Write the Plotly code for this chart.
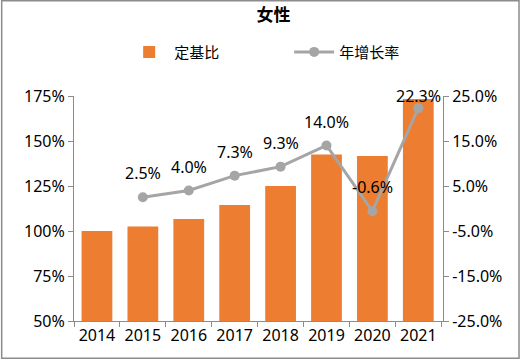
import plotly.graph_objects as go

years = ["2014", "2015", "2016", "2017", "2018", "2019", "2020", "2021"]
base_ratio = [100.0, 102.5, 106.6, 114.4, 125.0, 142.5, 141.7, 173.3]
growth_years = ["2015", "2016", "2017", "2018", "2019", "2020", "2021"]
growth_rate = [2.5, 4.0, 7.3, 9.3, 14.0, -0.6, 22.3]
right_ticks = [-25, -15, -5, 5, 15, 25]

FONT = "Noto Sans, Open Sans, Noto Sans CJK SC, sans-serif"
CJK = "Noto Sans CJK SC, sans-serif"

fig = go.Figure()
fig.add_trace(go.Bar(
    x=years, y=base_ratio, name="定基比",
    marker=dict(color="#ED7D31", line=dict(width=0)),
    yaxis="y",
))
fig.add_trace(go.Scatter(
    x=growth_years, y=growth_rate, name="年增长率",
    mode="lines+markers",
    line=dict(color="#A5A5A5", width=3),
    marker=dict(color="#A5A5A5", size=10),
    yaxis="y2", cliponaxis=False,
))

top_val = max(growth_rate)
for yr, v in zip(growth_years, growth_rate):
    fig.add_annotation(x=years.index(yr), y=v, xref="x", yref="y2", text=f"{v:.1f}%",
                       showarrow=False, yshift=12 if v == top_val else 24,
                       font=dict(size=16, color="#000000", family=FONT))

axis_common = dict(
    showgrid=False, zeroline=False, showline=True, linecolor="#8C8C8C", linewidth=1,
    ticks="outside", ticklen=5, tickcolor="#8C8C8C",
    tickfont=dict(size=16, color="#000000", family=FONT),
)

fig.update_layout(
    width=521, height=362,
    margin=dict(l=74, r=78, t=96, b=41, autoexpand=False),
    paper_bgcolor="white", plot_bgcolor="white",
    font=dict(family=FONT, color="#000000"),
    title=dict(text="<b>女性</b>", x=0.525, xanchor="center", y=0.958, yanchor="middle",
               font=dict(size=17, color="#000000", family=CJK)),
    bargap=0.33,
    showlegend=True,
    legend=dict(orientation="h", xref="container", yref="container",
                x=0.555, xanchor="center", y=0.856, yanchor="middle",
                font=dict(size=15, color="#000000", family=CJK),
                itemwidth=40, entrywidth=110, traceorder="normal"),
    xaxis=dict(**axis_common, type="category", tickson="boundaries", tickangle=0),
    yaxis=dict(**axis_common, range=[50, 175], dtick=25, ticksuffix="%", tick0=50),
    yaxis2=dict(**axis_common, overlaying="y", side="right", range=[-25, 25],
                tickvals=right_ticks, ticktext=[f"{v:.1f}%" for v in right_ticks]),
    shapes=[dict(type="rect", xref="paper", yref="paper",
                 x0=-0.196, x1=1.206, y0=-0.166, y1=1.423,
                 line=dict(color="#8C8C8C", width=1.5), fillcolor="rgba(0,0,0,0)", layer="below")],
)

fig.write_html("out.html", config={"displayModeBar": False},
               post_script="document.body.style.margin='0';")
